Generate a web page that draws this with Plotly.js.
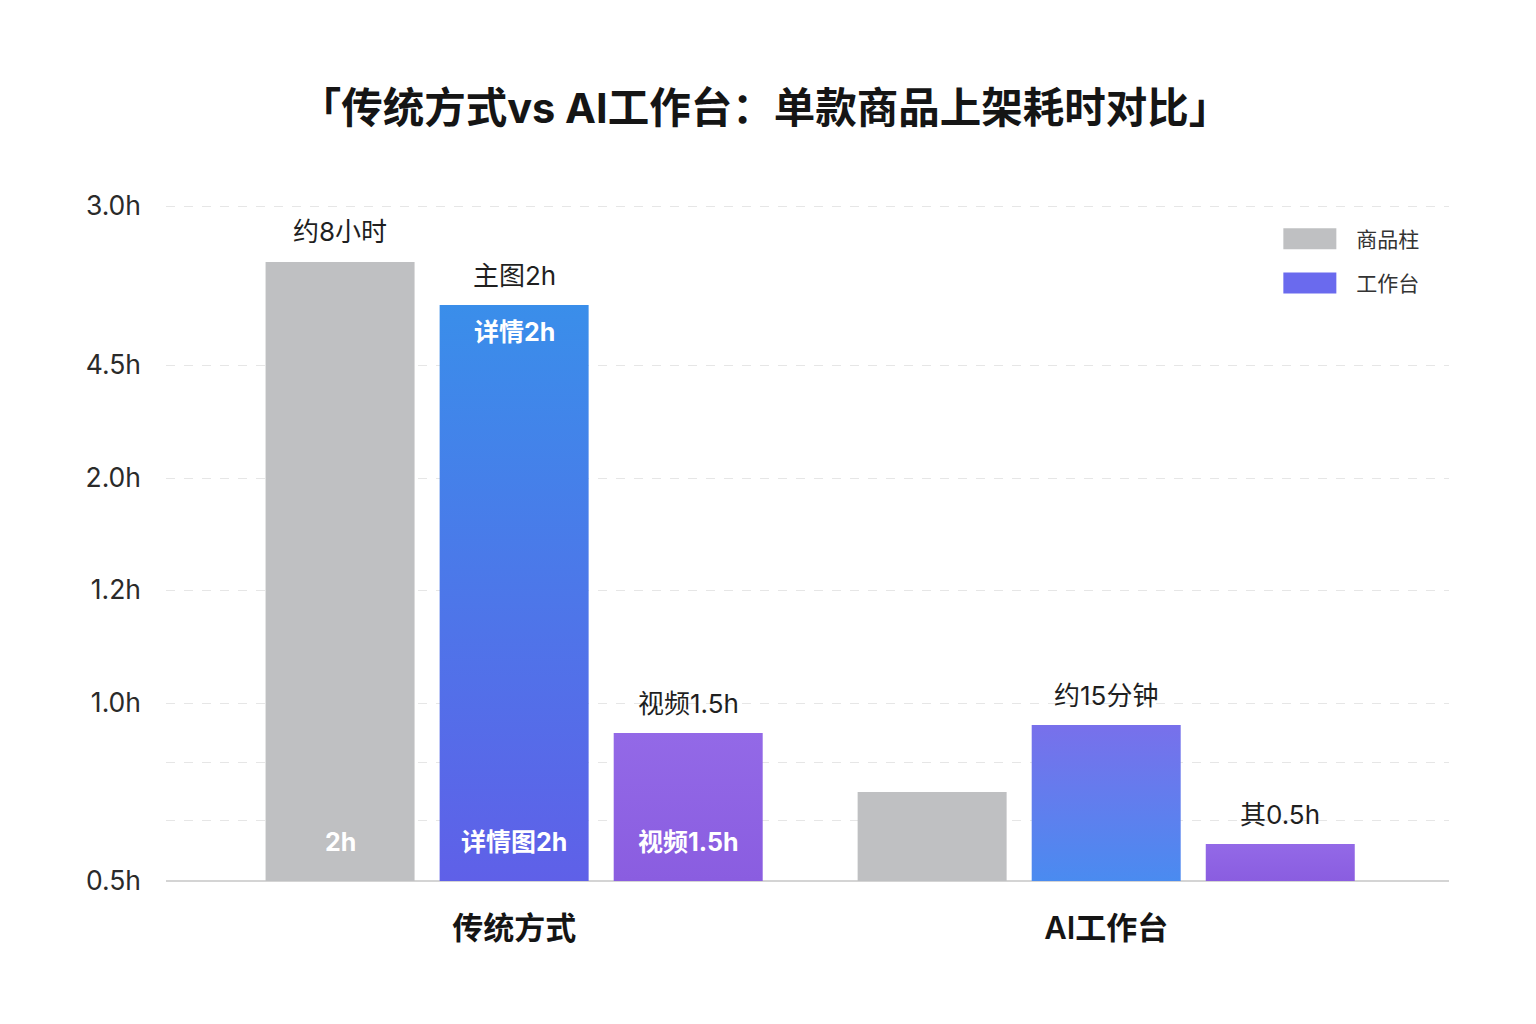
<!DOCTYPE html>
<html>
<head>
<meta charset="utf-8">
<script src="https://cdn.plot.ly/plotly-3.0.1.min.js"></script>
<style>
  html, body { margin: 0; padding: 0; background: #fff; }
  #chart { width: 1536px; height: 1024px; }
</style>
</head>
<body>
<div id="chart"></div>
<script>
// categories and bar heights (chart units, baseline = 0)
const groups = ['传统方式', 'AI工作台'];
const grayHeights = [619, 89];
const blueHeights = [576, 156];
const purpleHeights = [148, 37];

// labels above each bar
const grayTop = ['约8小时', ''];
const blueTop = ['主图2h', '约15分钟'];
const purpleTop = ['视频1.5h', '其0.5h'];
// labels inside the traditional bars
const grayInside = ['2h', ''];
const blueInsideTop = ['详情2h', ''];
const blueInside = ['详情图2h', ''];
const purpleInside = ['视频1.5h', ''];

// y axis ticks (the labels are as printed on the chart)
const tickVals = [0, 61, 119, 178, 291, 403, 516, 675];
const tickText = ['0.5h', '', '', '1.0h', '1.2h', '2.0h', '4.5h', '3.0h'];

const FONT = 'Inter, "Noto Sans CJK SC", sans-serif';
const bargap = 0.118;
const slot = (1 - bargap) / 3;
const xs = groups.map((g, i) => i);

const traces = [{
  type: 'bar',
  name: '商品柱',
  legendgroup: 'a',
  x: xs,
  y: grayHeights,
  marker: {color: '#bfc0c2', line: {width: 0}},
  hoverinfo: 'skip',
}, {
  type: 'bar',
  name: '工作台',
  legendgroup: 'b',
  x: xs,
  y: blueHeights,
  marker: {color: '#6a6aee', line: {width: 0}},
  hoverinfo: 'skip',
}, {
  type: 'bar',
  name: '视频',
  showlegend: false,
  x: xs,
  y: purpleHeights,
  marker: {color: '#8f65e4', line: {width: 0}},
  hoverinfo: 'skip',
}];

const annotations = [];
function label(x, y, text, shift, white) {
  if (!text) return;
  annotations.push({
    x: x, y: y, xref: 'x', yref: 'y',
    text: text,
    showarrow: false,
    yanchor: 'middle',
    yshift: shift,
    font: {
      family: FONT,
      size: white ? 25 : 26,
      color: white ? '#ffffff' : '#1f1f1f',
      weight: white ? 700 : 400,
    },
  });
}
xs.forEach((x, i) => {
  label(x - slot, grayHeights[i], grayTop[i], 31, false);
  label(x, blueHeights[i], blueTop[i], 30, false);
  label(x + slot, purpleHeights[i], purpleTop[i], 30, false);
  label(x, blueHeights[i], blueInsideTop[i], -27, true);
  label(x - slot, 0, grayInside[i], 39, true);
  label(x, 0, blueInside[i], 39, true);
  label(x + slot, 0, purpleInside[i], 39, true);
});

const layout = {
  width: 1536,
  height: 1024,
  margin: {l: 166, r: 87, t: 181, b: 143},
  paper_bgcolor: '#ffffff',
  plot_bgcolor: '#ffffff',
  font: {family: FONT, color: '#1f1f1f'},
  title: {
    text: '「传统方式vs AI工作台：单款商品上架耗时对比」',
    font: {family: FONT, size: 41.5, color: '#151515', weight: 700},
    xref: 'container',
    x: 0.498,
    yref: 'container',
    y: 1 - 108 / 1024,
    yanchor: 'middle',
  },
  barmode: 'group',
  bargap: bargap,
  bargroupgap: 0.144,
  xaxis: {
    type: 'linear',
    range: [-0.588, 1.579],
    tickvals: xs,
    ticktext: groups,
    tickfont: {family: FONT, size: 31, color: '#151515', weight: 600},
    ticklabelstandoff: 26,
    showgrid: false,
    zeroline: false,
    showline: false,
    ticks: '',
  },
  yaxis: {
    range: [0, 700],
    tickvals: tickVals,
    ticktext: tickText,
    tickfont: {family: FONT, size: 26.5, color: '#2a2a2a'},
    ticklabelstandoff: 24,
    showgrid: true,
    gridcolor: '#e6e6e6',
    griddash: 'dash',
    gridwidth: 1,
    zeroline: true,
    zerolinecolor: '#d4d4d4',
    zerolinewidth: 2,
    ticks: '',
  },
  legend: {
    x: 0.8553,
    xanchor: 'left',
    y: 0.9464,
    yanchor: 'top',
    traceorder: 'grouped',
    tracegroupgap: 14,
    itemwidth: 83,
    font: {family: FONT, size: 21, color: '#333333'},
    bgcolor: 'rgba(0,0,0,0)',
  },
  annotations: annotations,
};

function addGradient(defs, id, top, bottom) {
  const ns = 'http://www.w3.org/2000/svg';
  const g = document.createElementNS(ns, 'linearGradient');
  g.setAttribute('id', id);
  g.setAttribute('x1', '0');
  g.setAttribute('y1', '0');
  g.setAttribute('x2', '0');
  g.setAttribute('y2', '1');
  [['0', top], ['1', bottom]].forEach(([o, c]) => {
    const s = document.createElementNS(ns, 'stop');
    s.setAttribute('offset', o);
    s.setAttribute('stop-color', c);
    g.appendChild(s);
  });
  defs.appendChild(g);
}

Plotly.newPlot('chart', traces, layout, {displayModeBar: false}).then(gd => {
  const defs = gd.querySelector('.main-svg defs');
  addGradient(defs, 'gTradBlue', '#3a8eea', '#5f60e8');
  addGradient(defs, 'gAiBlue', '#7870eb', '#4a8bf0');
  addGradient(defs, 'gPurple', '#9369e7', '#8a5de0');

  const barTraces = gd.querySelectorAll('.barlayer .trace');
  const blue = barTraces[1].querySelectorAll('.point path');
  blue[0].style.fill = 'url(#gTradBlue)';
  blue[1].style.fill = 'url(#gAiBlue)';
  barTraces[2].querySelectorAll('.point path').forEach(p => {
    p.style.fill = 'url(#gPurple)';
  });

  // wider legend swatches
  gd.querySelectorAll('.legend .legendpoints path').forEach(p => {
    p.setAttribute('d', 'M26.5,10.5H-26.5V-10.5H26.5Z');
  });
});
</script>
</body>
</html>
